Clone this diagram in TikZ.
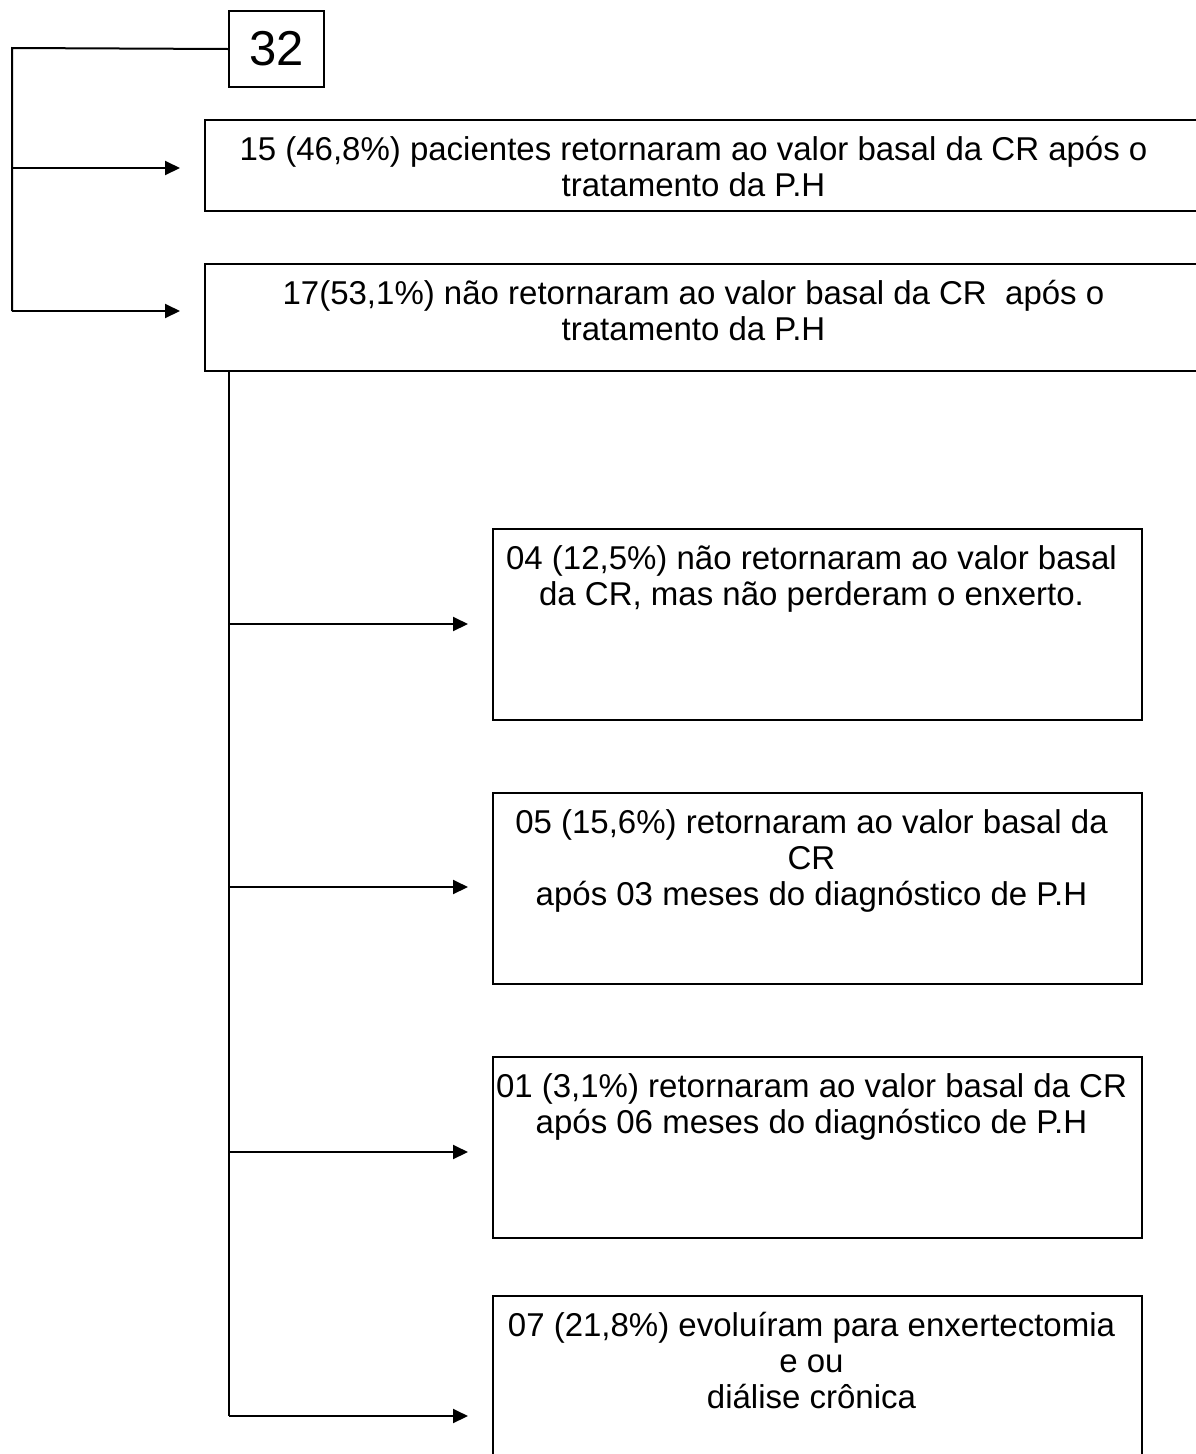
\documentclass[tikz,border=0pt]{standalone}
\usepackage{fontspec}
\setmainfont{Liberation Sans}
\usetikzlibrary{arrows.meta,positioning}
\tikzstyle{kasten} = [draw, rectangle, line width=2pt, inner sep=0, anchor=north west]
\tikzstyle{txt} = [font=\fontsize{33}{36}\selectfont, align=center, anchor=north, inner sep=0]
\tikzstyle{linie} = [line width=2pt]
\tikzstyle{pfeil} = [line width=2pt, -{Triangle[length=15pt,width=14pt]}, shorten >=24pt]

\begin{document}
\begin{tikzpicture}[x=1pt,y=-1pt]
		\useasboundingbox (0,0) rectangle (1195,1454);
		% nodes
		\node[kasten,minimum width=95pt,minimum height=76pt] (n32) at (228,10) {\fontsize{49}{52}\selectfont 32};	% Gesamtzahl
		\node[kasten,minimum width=1001pt,minimum height=91pt] (p15) at (204,119) {};		% rechts abgeschnitten
		\node[kasten,minimum width=1001pt,minimum height=107pt] (p17) at (204,263) {};
		\node[kasten,minimum width=649pt,minimum height=191pt] (p04) at (492,528) {};
		\node[kasten,minimum width=649pt,minimum height=191pt] (p05) at (492,792) {};
		\node[kasten,minimum width=649pt,minimum height=181pt] (p01) at (492,1056) {};
		\node[kasten,minimum width=649pt,minimum height=180pt] (p07) at (492,1295) {};	% unten abgeschnitten
		
		% Texte oben in den Kaesten
		\node[txt,below=16pt of p15.north,xshift=-12pt] (t15) {\strut 15 (46,8\%) pacientes retornaram ao valor basal da CR após o\\tratamento da P.H};
		\node[txt,below=16pt of p17.north,xshift=-12pt] (t17) {\strut 17(53,1\%) não retornaram ao valor basal da CR~~após o\\tratamento da P.H};
		\node[txt,below=16pt of p04.north,xshift=-6pt] (t04) {\strut 04 (12,5\%) não retornaram ao valor basal\\da CR, mas não perderam o enxerto.};
		\node[txt,below=16pt of p05.north,xshift=-6pt] (t05) {\strut 05 (15,6\%) retornaram ao valor basal da\\CR\\após 03 meses do diagnóstico de P.H};
		\node[txt,below=16pt of p01.north,xshift=-6pt] (t01) {\strut 01 (3,1\%) retornaram ao valor basal da CR\\após 06 meses do diagnóstico de P.H};
		\node[txt,below=16pt of p07.north,xshift=-6pt] (t07) {\strut 07 (21,8\%) evoluíram para enxertectomia\\e ou\\diálise crônica};
		
		% Knickpunkte der Linien
		\coordinate (ecke) at (12,48);
		\coordinate (a15) at (12,168);
		\coordinate (a17) at (12,311);
		\coordinate (a04) at (229,624);
		\coordinate (a05) at (229,887);
		\coordinate (a01) at (229,1152);
		\coordinate (a07) at (229,1416);
		
		% Linien und Pfeile
		\draw[linie] (n32.west) -- (ecke) -- (a17);
		\draw[pfeil] (a15) -- (a15 -| p15.west);
		\draw[pfeil] (a17) -- (a17 -| p17.west);
		\draw[linie] (p17.south -| a04) -- (a07);
		\foreach \z in {04,05,01,07}
			\draw[pfeil] (a\z) -- (a\z -| p\z.west);
\end{tikzpicture}
\end{document}
